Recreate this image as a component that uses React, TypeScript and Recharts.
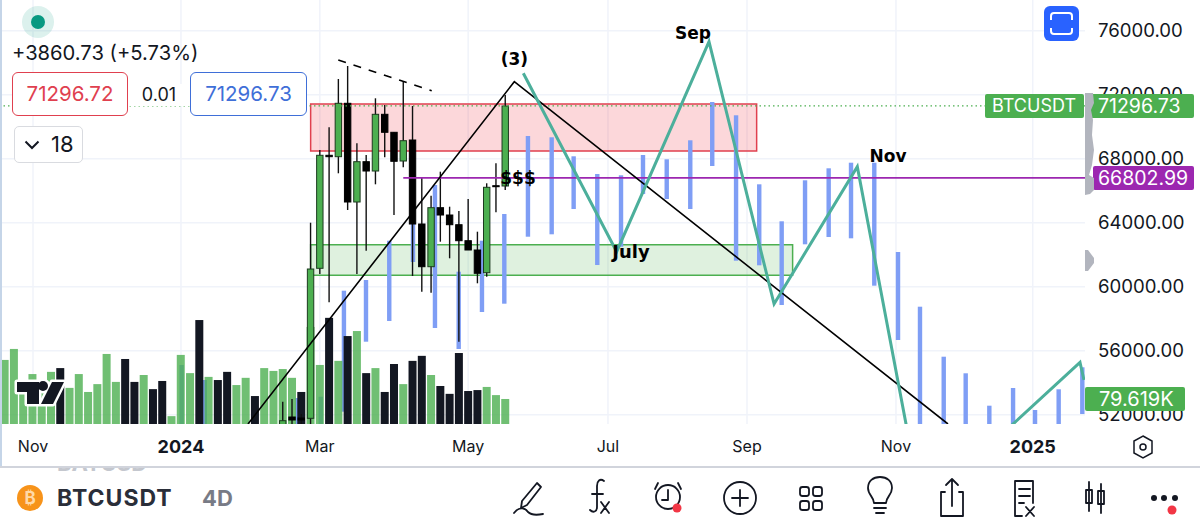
import React from 'react';
import { ComposedChart, Bar, Line, XAxis, YAxis, CartesianGrid, ReferenceArea, ReferenceLine, ReferenceDot } from 'recharts';

const UI_FONT = 'Inter, Roboto, sans-serif';

// price scale and time scale (x is counted in 4D bars)
const priceTicks = [52000, 56000, 60000, 64000, 68000, 72000, 76000];
const priceDomain = [51419, 77919];
const timeDomain = [-0.5, 116.54];
const timeTicks = [3.06, 19.02, 34, 50, 65.08, 80.08, 96.15, 110.9];
const timeLabels = ['Nov', '2024', 'Mar', 'May', 'Jul', 'Sep', 'Nov', '2025'];
const boldLabels = ['2024', '2025'];

// volume in thousands, one per bar from the left edge
const volumes = [204, 239, 134, 159, 140, 166, 178, 115, 159, 102, 127, 223, 134, 207, 134, 156, 111, 137, 25, 220, 162, 331, 150, 140, 166, 124, 147, 89, 178, 169, 175, 147, 102, 309, 188, 338, 201, 280, 296, 162, 178, 102, 191, 127, 201, 217, 156, 121, 96, 226, 105, 108, 118, 92, 79.619];
const volumeUp = [1, 1, 1, 1, 1, 1, 0, 1, 1, 1, 1, 1, 1, 0, 0, 1, 0, 0, 1, 1, 1, 0, 1, 0, 0, 1, 1, 0, 1, 1, 1, 1, 0, 1, 1, 0, 1, 0, 1, 0, 1, 0, 0, 1, 0, 0, 1, 0, 0, 0, 0, 0, 1, 1, 1];

// candles, starting at bar 30
const candleStart = 30;
const opens = [50919, 51856, 51794, 51775, 61150, 68213, 68125, 71463, 65294, 67813, 67231, 70775, 69650, 67856, 69169, 63919, 61250, 64938, 64481, 63875, 62875, 62294, 60875, 66313, 66294];
const highs = [52813, 52981, 52044, 64000, 68544, 69963, 72981, 73794, 68963, 68231, 71775, 71356, 69650, 72813, 71294, 66838, 65688, 67188, 65000, 64731, 65481, 63438, 66463, 67713, 71981];
const lows = [50700, 51000, 50900, 51300, 60794, 59025, 67088, 64794, 60794, 62250, 66400, 68088, 64481, 67463, 60669, 59688, 59625, 62813, 61775, 56563, 62294, 60213, 60625, 64650, 66044];
const closes = [51625, 51669, 51669, 61106, 68213, 68125, 71463, 65294, 67813, 67231, 70775, 69650, 67838, 69125, 63919, 61250, 64938, 64481, 63875, 62875, 62294, 60838, 66213, 66250, 71294];

// blue projected bars
const ghostPos = [19.09, 21.59, 31.61, 34.1, 36.6, 38.98, 41.49, 44.05, 46.42, 48.98, 51.49, 53.9, 56.45, 59.01, 61.38, 63.93, 66.49, 68.86, 71.42, 73.96, 76.33, 78.9, 81.4, 83.82, 86.34, 88.89, 91.3, 93.81, 96.37, 98.74, 101.3, 103.67, 106.22, 108.78, 111.15, 113.7, 116.25];
const ghostHighs = [55106, 54169, 53044, 53125, 59750, 60419, 62875, 63981, 66356, 60938, 62875, 64544, 69419, 69338, 68150, 67044, 66963, 68231, 67963, 69150, 71544, 70713, 66400, 64088, 66650, 67400, 67750, 67750, 62169, 58750, 55625, 54588, 52563, 53669, 52294, 53588, 54963];
const ghostLows = [50800, 50900, 50700, 50900, 52188, 56563, 57856, 61544, 57419, 56106, 58419, 58938, 63125, 63275, 64856, 61356, 62500, 65794, 65481, 64856, 67544, 61625, 61338, 58856, 62650, 63106, 63025, 60063, 56669, 50800, 50900, 50700, 50900, 50800, 50900, 50800, 52044];

// drawings on the chart
const bidPrice = '71296.72';
const askPrice = '71296.73';
const lastPrice = 71296.73;
const levelPrice = 66802.99;
const lastVolume = '79.619K';
const redZone = { x1: 33.01, x2: 81.12, y1: 68481, y2: 71419 };
const greenZone = { x1: 33.01, x2: 85, y1: 60713, y2: 62625 };
const trendLine = [{ x: 26.25, y: 51419 }, { x: 54.98, y: 72813 }, { x: 101.76, y: 51419 }];
const dashLine = [{ x: 35.99, y: 74169 }, { x: 46.07, y: 72250 }];
const levelLine = [{ x: 43, y: levelPrice }, { x: 116.54, y: levelPrice }];
const wavePath = [
  { x: 55.95, y: 73338 },
  { x: 66.02, y: 62188 },
  { x: 75.98, y: 75313 },
  { x: 83, y: 58919 },
  { x: 91.98, y: 67500 },
  { x: 98.95, y: 46169 },
  { x: 116, y: 55275 },
  { x: 116.43, y: 54169 },
];
const notes = [
  { text: '(3)', x: 54.98, y: 74231, size: 17 },
  { text: 'Sep', x: 74.25, y: 75875, size: 17 },
  { text: 'Nov', x: 95.3, y: 68169, size: 17 },
  { text: 'July', x: 67.57, y: 62169, size: 18 },
  { text: '$$$', x: 55.38, y: 66794, size: 17 },
];

const rows: any[] = [];
volumes.forEach((v, i) => rows.push({ x: i, volume: v, up: volumeUp[i] }));
opens.forEach((o, i) => {
  const row = rows[candleStart + i];
  row.open = o;
  row.high = highs[i];
  row.low = lows[i];
  row.close = closes[i];
  row.range = [lows[i], highs[i]];
});
ghostPos.forEach((p, i) => rows.push({ x: p, ghost: [ghostLows[i], ghostHighs[i]] }));
rows.sort((a, b) => a.x - b.x);

const VolumeBar = (props: any) => {
  const { x, y, width, height, payload } = props;
  if (payload.volume == null) return null;
  const cx = x + width / 2;
  return <rect x={cx - 4} y={y} width={8} height={height} fill={payload.up ? '#4caf50' : '#131722'} fillOpacity={payload.up ? 0.8 : 1} />;
};

const GhostBar = (props: any) => {
  const { x, y, width, height, payload } = props;
  if (payload.ghost == null) return null;
  const cx = x + width / 2;
  return <rect x={cx - 2.2} y={y} width={4.4} height={height} fill="#7f9ef5" />;
};

const Candle = (props: any) => {
  const { x, y, width, height, payload } = props;
  if (payload.range == null) return null;
  const cx = x + width / 2;
  const k = height / (payload.high - payload.low);
  const top = y + (payload.high - Math.max(payload.open, payload.close)) * k;
  const bodyH = Math.abs(payload.open - payload.close) * k;
  const up = payload.close >= payload.open;
  return (
    <g>
      <line x1={cx} x2={cx} y1={y} y2={y + height} stroke="#111" strokeWidth={1.4} />
      <rect x={cx - 3.2} y={top} width={6.4} height={Math.max(bodyH, 1)} fill={up ? '#4caf50' : '#000'} stroke={up ? '#1c3a1f' : '#000'} strokeWidth={1} />
    </g>
  );
};

const TimeTick = (props: any) => {
  const { x, y, payload } = props;
  const label = timeLabels[timeTicks.indexOf(payload.value)];
  const bold = boldLabels.includes(label);
  return (
    <text x={x} y={y} textAnchor="middle" dominantBaseline="central" fontFamily={UI_FONT} fontSize={bold ? 18 : 16} fontWeight={bold ? 700 : 400} fill="#131722">
      {label}
    </text>
  );
};

const priceTag = (text: string, left: number, top: number, width: number, height: number, bg: string, textLeft: number, size: number) => (
  <div style={{ position: 'absolute', left, top, width, height, background: bg, color: '#fff', borderRadius: 2, fontFamily: UI_FONT, fontSize: size, lineHeight: height + 'px', paddingLeft: textLeft - left, boxSizing: 'border-box', whiteSpace: 'nowrap' }}>
    {text}
  </div>
);

const ToolIcons = () => (
  <svg width={1200} height={60} viewBox="0 459 1200 60" style={{ position: 'absolute', left: 0, top: 459 }}>
    <g fill="none" stroke="#131722" strokeWidth={1.8} strokeLinecap="round" strokeLinejoin="round">
      {/* pen */}
      <path d="M537 483 L541 487 L527 505 L521 508 L522 501 Z" />
      <path d="M514 513 C520 505 526 509 528 512 C531 515 538 515 543 514" />
      {/* alarm */}
      <circle cx={668} cy={497} r={12} />
      <path d="M658 483 L655 489 M678 483 L681 489 M668 490 L668 500 L662 500" />
      {/* add */}
      <circle cx={740} cy={498} r={16} />
      <path d="M740 490 L740 506 M732 498 L748 498" />
      {/* layouts */}
      <rect x={800} y={487} width={9} height={9} rx={2.5} />
      <rect x={813} y={487} width={9} height={9} rx={2.5} />
      <rect x={800} y={501} width={9} height={9} rx={2.5} />
      <rect x={813} y={501} width={9} height={9} rx={2.5} />
      {/* ideas */}
      <path d="M874 503 C874 497 868 495 868 488 C868 481 873 477 880 477 C887 477 892 481 892 488 C892 495 886 497 886 503 Z" />
      <path d="M874 508 L886 508 M876 513 L884 513" />
      {/* share */}
      <path d="M945 492 L941 492 L941 516 L963 516 L963 492 L959 492" />
      <path d="M952 506 L952 479 M946 485 L952 479 L958 485" />
      {/* notes */}
      <path d="M1015 481 L1033 481 L1033 503 M1015 481 L1015 516 L1022 516" />
      <path d="M1019 489 L1030 489 M1019 496 L1030 496 M1019 503 L1024 503" />
      <path d="M1026 507 L1034 516 M1034 507 L1026 516" />
      {/* bars */}
      <path d="M1089 482 L1089 511 M1101 484 L1101 513" />
      <rect x={1086} y={490} width={6} height={13} />
      <rect x={1098} y={491} width={6} height={13} />
      {/* fx */}
      <path d="M604 481 C600 478 597 481 597 486 L597 507 C597 512 593 513 590 510" />
      <path d="M592 494 L603 494 M601 502 L609 513 M609 502 L601 513" />
    </g>
    <circle cx={677} cy={508} r={4.5} fill="#f23645" />
    <circle cx={1154} cy={498} r={3} fill="#131722" />
    <circle cx={1164} cy={498} r={3} fill="#131722" />
    <circle cx={1175} cy={498} r={3} fill="#131722" />
    <circle cx={1172} cy={510} r={4.5} fill="#f23645" />
    <circle cx={30} cy={498} r={13} fill="#f7931a" />
    <text x={30} y={504} textAnchor="middle" fontFamily={UI_FONT} fontWeight={700} fontSize={17} fill="#ffd9a8">₿</text>
    <text x={57} y={506} fontFamily={UI_FONT} fontWeight={700} fontSize={23} letterSpacing={1} fill="#2a2e39">BTCUSDT</text>
    <text x={202} y={506} fontFamily={UI_FONT} fontWeight={700} fontSize={22} fill="#787b86">4D</text>
  </svg>
);

export default function App() {
  return (
    <div style={{ position: 'absolute', left: 0, top: 0, width: 1200, height: 519, background: '#fff', overflow: 'hidden' }}>
      <ComposedChart width={1200} height={466} data={rows} margin={{ top: 0, right: 0, bottom: 0, left: 0 }}>
        <XAxis xAxisId="main" dataKey="x" type="number" domain={timeDomain} ticks={timeTicks} allowDataOverflow interval={0} height={42} axisLine={false} tickLine={false} tick={<TimeTick />} tickMargin={16} />
        <XAxis xAxisId="ghost" dataKey="x" type="number" domain={timeDomain} allowDataOverflow hide height={0} />
        <XAxis xAxisId="volume" dataKey="x" type="number" domain={timeDomain} allowDataOverflow hide height={0} />
        <XAxis xAxisId="candle" dataKey="x" type="number" domain={timeDomain} allowDataOverflow hide height={0} />
        <YAxis yAxisId="price" orientation="right" width={115} domain={priceDomain} ticks={priceTicks} allowDataOverflow interval={0} axisLine={false} tickLine={false} tickMargin={7} tickFormatter={(v: number) => v.toFixed(2)} tick={{ fill: '#131722', fontSize: 18.6, fontFamily: UI_FONT }} />
        <YAxis yAxisId="volume" domain={[0, 1350]} hide width={0} />
        <CartesianGrid xAxisId="main" yAxisId="price" stroke="#f0f3fa" strokeWidth={1.5} horizontalValues={priceTicks} verticalValues={timeTicks} />
        <Bar xAxisId="ghost" yAxisId="price" dataKey="ghost" shape={<GhostBar />} isAnimationActive={false} />
        <Bar xAxisId="volume" yAxisId="volume" dataKey="volume" shape={<VolumeBar />} isAnimationActive={false} />
        <ReferenceArea xAxisId="main" yAxisId="price" {...greenZone} fill="#4caf50" fillOpacity={0.18} stroke="#4caf50" strokeWidth={1.5} />
        <ReferenceArea xAxisId="main" yAxisId="price" {...redZone} fill="#f23645" fillOpacity={0.2} stroke="#e0404f" strokeWidth={1.5} />
        <Bar xAxisId="candle" yAxisId="price" dataKey="range" shape={<Candle />} isAnimationActive={false} />
        <ReferenceLine xAxisId="main" yAxisId="price" y={lastPrice} stroke="#4caf50" strokeDasharray="1.5 3" strokeWidth={1.3} />
        <Line xAxisId="main" yAxisId="price" data={levelLine} dataKey="y" stroke="#9c27b0" strokeWidth={1.8} dot={false} activeDot={false} isAnimationActive={false} />
        <Line xAxisId="main" yAxisId="price" data={trendLine} dataKey="y" stroke="#000" strokeWidth={1.6} dot={false} activeDot={false} isAnimationActive={false} />
        <Line xAxisId="main" yAxisId="price" data={dashLine} dataKey="y" stroke="#000" strokeWidth={1.6} strokeDasharray="8 8" dot={false} activeDot={false} isAnimationActive={false} />
        <Line xAxisId="main" yAxisId="price" data={wavePath} dataKey="y" stroke="#4caf9b" strokeWidth={3} dot={false} activeDot={false} isAnimationActive={false} />
        {notes.map((n) => (
          <ReferenceDot key={n.text} xAxisId="main" yAxisId="price" x={n.x} y={n.y} r={0} label={{ value: n.text, position: 'center', fill: '#000', fontSize: n.size, fontWeight: 700, fontFamily: 'DejaVu Sans' }} />
        ))}
      </ComposedChart>

      {/* TV logo */}
      <svg width={70} height={40} style={{ position: 'absolute', left: 10, top: 375 }}>
        <g fill="#fff" stroke="#fff" strokeWidth={5} strokeLinejoin="round">
          <path d="M7 7 L29 7 L29 29 L17 29 L17 17 L7 17 Z" />
          <circle cx={33} cy={11} r={5} />
          <path d="M42 7 L54 7 L43 29 L31 29 Z" />
        </g>
        <g fill="#131722">
          <path d="M7 7 L29 7 L29 29 L17 29 L17 17 L7 17 Z" />
          <circle cx={33} cy={11} r={5} />
          <path d="M42 7 L54 7 L43 29 L31 29 Z" />
        </g>
      </svg>

      {/* top left quote panel */}
      <div style={{ position: 'absolute', left: 22, top: 6, width: 32, height: 32, borderRadius: 16, background: 'rgba(8,153,129,0.14)' }} />
      <div style={{ position: 'absolute', left: 31, top: 15, width: 14, height: 14, borderRadius: 7, background: '#089981' }} />
      <div style={{ position: 'absolute', left: 12, top: 41, fontFamily: UI_FONT, fontSize: 20.2, lineHeight: '24px', color: '#131722', whiteSpace: 'nowrap' }}>+3860.73 (+5.73%)</div>
      <div style={{ position: 'absolute', left: 12, top: 72, width: 116, height: 44, boxSizing: 'border-box', border: '1.5px solid #e0404f', borderRadius: 6, background: '#fff', color: '#e0404f', fontFamily: UI_FONT, fontSize: 20.5, lineHeight: '41px', textAlign: 'center' }}>{bidPrice}</div>
      <div style={{ position: 'absolute', left: 128, top: 84, width: 62, background: '#fff', color: '#131722', fontFamily: UI_FONT, fontSize: 18, lineHeight: '22px', textAlign: 'center' }}>0.01</div>
      <div style={{ position: 'absolute', left: 190, top: 72, width: 117, height: 44, boxSizing: 'border-box', border: '1.5px solid #3f6fd8', borderRadius: 6, background: '#fff', color: '#3f6fd8', fontFamily: UI_FONT, fontSize: 20.5, lineHeight: '41px', textAlign: 'center' }}>{askPrice}</div>
      <div style={{ position: 'absolute', left: 14, top: 126, width: 69, height: 37, boxSizing: 'border-box', border: '1.5px solid #d9dbe0', borderRadius: 5, background: '#fff', color: '#131722', fontFamily: UI_FONT, fontSize: 22, lineHeight: '34px', paddingLeft: 36 }}>
        18
        <svg width={16} height={10} style={{ position: 'absolute', left: 9, top: 13 }}>
          <path d="M1.5 1.5 L8 8 L14.5 1.5" fill="none" stroke="#131722" strokeWidth={2} />
        </svg>
      </div>

      {/* fullscreen button */}
      <div style={{ position: 'absolute', left: 1044, top: 6, width: 35, height: 35, borderRadius: 6, background: '#2962ff' }}>
        <svg width={35} height={35}>
          <path d="M7 14 L7 10 C7 8 8 7 10 7 L25 7 C27 7 28 8 28 10 L28 14 M7 22 L7 25 C7 27 8 28 10 28 L25 28 C27 28 28 27 28 25 L28 22" fill="none" stroke="#fff" strokeWidth={2} />
        </svg>
      </div>

      {/* price scale tags */}
      {priceTag('BTCUSDT', 985, 94, 99, 24, '#4caf50', 992, 18)}
      {priceTag(askPrice, 1088, 94, 106, 24, '#4caf50', 1098, 19.5)}
      {priceTag(levelPrice.toFixed(2), 1093, 166, 101, 24, '#9c27b0', 1098, 19.5)}
      {priceTag(lastVolume, 1085, 387, 100, 24, '#4caf50', 1099, 20)}
      <svg width={12} height={200} style={{ position: 'absolute', left: 1085, top: 90 }}>
        <path d="M0 3 L8 3 L9 13 L6 20 L8 30 L7 45 L9 60 L7 75 L4 85 L9 88 L9 100 L5 104 L0 105 Z" fill="#b2b5be" />
        <path d="M0 160 L3 160 L9 168 L9 173 L3 181 L0 181 Z" fill="#b2b5be" />
      </svg>

      {/* time scale bottom */}
      <svg width={24} height={26} style={{ position: 'absolute', left: 1131, top: 434 }}>
        <path d="M12 2 L21 7 L21 19 L12 24 L3 19 L3 7 Z" fill="none" stroke="#131722" strokeWidth={1.5} />
        <circle cx={12} cy={13} r={3} fill="none" stroke="#131722" strokeWidth={1.5} />
      </svg>
      <div style={{ position: 'absolute', left: 0, top: 466, width: 1200, height: 6, overflow: 'hidden' }}>
        <div style={{ position: 'absolute', left: 57, top: -14, fontFamily: UI_FONT, fontWeight: 700, fontSize: 22, lineHeight: '22px', color: '#c4c7ce' }}>BATUSD</div>
      </div>
      <div style={{ position: 'absolute', left: 0, top: 466, width: 1200, height: 1.5, background: '#d1d4dc' }} />
      <div style={{ position: 'absolute', left: 0, top: 0, width: 1.5, height: 466, background: '#c5d5e8' }} />
      <ToolIcons />
    </div>
  );
}
